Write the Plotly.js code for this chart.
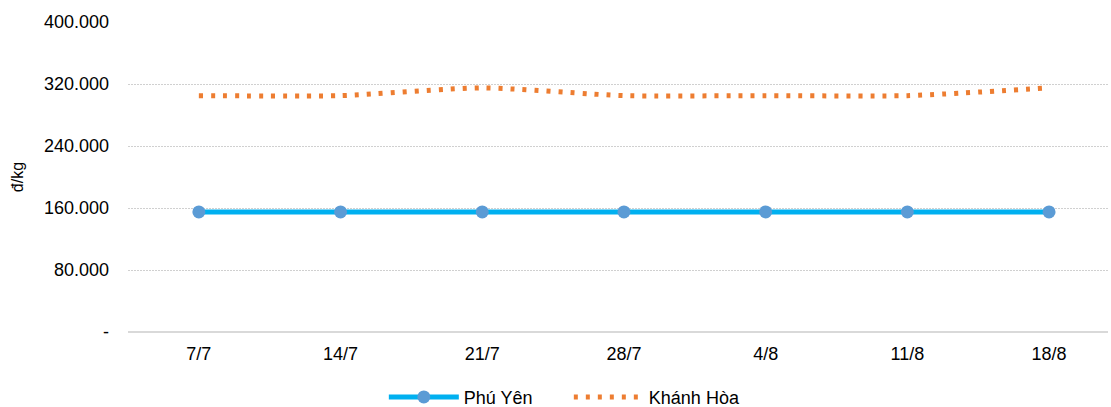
<!DOCTYPE html>
<html>
<head>
<meta charset="utf-8">
<script src="https://cdn.plot.ly/plotly-3.0.1.min.js"></script>
<style>html,body{margin:0;padding:0;background:#fff;}#chart{width:1111px;height:407px;}</style>
</head>
<body>
<div id="chart"></div>
<script>
const categories = ["7/7", "14/7", "21/7", "28/7", "4/8", "11/8", "18/8"];
const phuYen = [155000, 155000, 155000, 155000, 155000, 155000, 155000];
const khanhHoa = [305000, 305000, 315000, 305000, 305000, 305000, 315000];
const yTickVals = [0, 80000, 160000, 240000, 320000, 400000];
const yTickText = ["-", "80.000", "160.000", "240.000", "320.000", "400.000"];

const traces = [
  {
    x: categories, y: phuYen, name: "Phú Yên", type: "scatter", mode: "lines+markers",
    line: {color: "#00B0F0", width: 5},
    marker: {color: "#5B9BD5", size: 13},
    hoverinfo: "skip"
  },
  {
    x: categories, y: khanhHoa, name: "Khánh Hòa", type: "scatter", mode: "lines",
    line: {color: "#ED7D31", width: 5, dash: "4px,8px", shape: "spline", smoothing: 0.6},
    hoverinfo: "skip"
  }
];

const layout = {
  width: 1111, height: 407,
  margin: {l: 128, r: 3, t: 22, b: 75, autoexpand: false},
  paper_bgcolor: "#fff", plot_bgcolor: "#fff",
  font: {family: "Liberation Sans, Arial, sans-serif", size: 18, color: "#000"},
  showlegend: true,
  legend: {orientation: "h", xref: "container", yref: "container", x: 0.512, xanchor: "center",
           y: 0.024, yanchor: "middle", font: {size: 18, color: "#000"}, itemwidth: 70,
           entrywidth: 100, traceorder: "normal"},
  xaxis: {
    type: "category", range: [-0.5, 6.416], showgrid: false, zeroline: false,
    showline: false, ticks: "", tickfont: {size: 18}, ticklabelstandoff: 9, fixedrange: true
  },
  yaxis: {
    range: [0, 400000], tickvals: yTickVals, ticktext: yTickText,
    showgrid: true, gridcolor: "#D0D0D0", griddash: "1.5px,1.5px", gridwidth: 1,
    zeroline: true, zerolinecolor: "#D9D9D9", zerolinewidth: 2,
    showline: false, ticks: "", tickfont: {size: 18}, ticklabelstandoff: 18,
    title: {text: "đ/kg", font: {size: 16}, standoff: 16}, fixedrange: true
  }
};

Plotly.newPlot("chart", traces, layout, {displayModeBar: false, staticPlot: true});
</script>
</body>
</html>
